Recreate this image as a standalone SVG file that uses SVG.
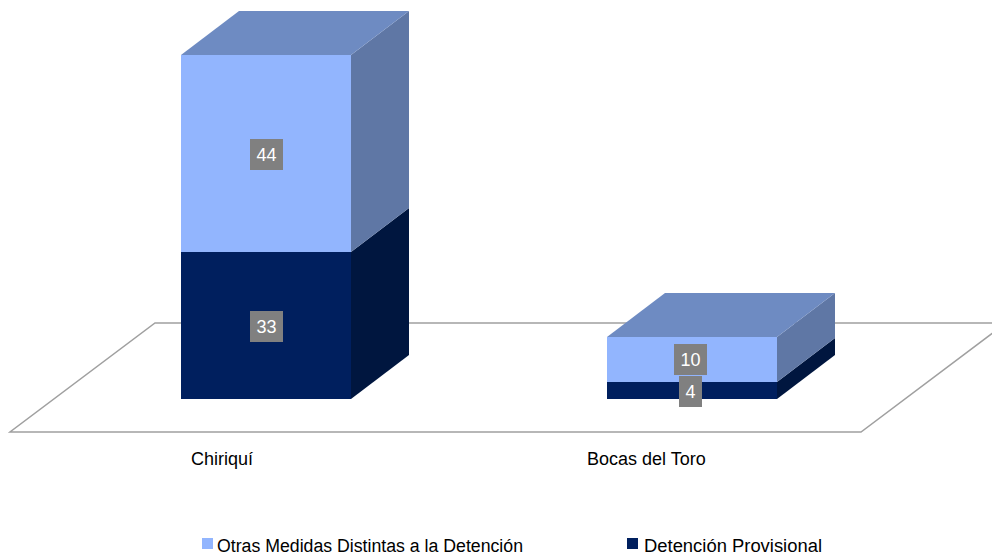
<svg xmlns="http://www.w3.org/2000/svg" width="992" height="555" viewBox="0 0 992 555">
<style>
.floor{fill:#fff;stroke:#a0a0a0;stroke-width:1.5}
.lf{fill:#92b5fe}.lt{fill:#6e8bc2}.ls{fill:#5f77a5}
.df{fill:#001f5e}.ds{fill:#00163f}
.lb{fill:#808080}
.lbt{font-family:"Liberation Sans",Arial,sans-serif;font-size:18px;fill:#fff;text-anchor:middle}
.ax{font-family:"Liberation Sans",Arial,sans-serif;font-size:18px;fill:#000}
</style>
<rect width="992" height="555" fill="#fff"/>
<g id="floor">
<polygon class="floor" points="10,432 861,432 1006,323 155,323"/>
</g>
<g id="bar-chiriqui">
<polygon class="df" points="181,252 351,252 351,399 181,399"/>
<polygon class="ds" points="351,252 409,208 409,355 351,399"/>
<polygon class="lf" points="181,55 351,55 351,252 181,252"/>
<polygon class="ls" points="351,55 409,11 409,208 351,252"/>
<polygon class="lt" points="181,55 239,11 409,11 351,55"/>
<rect class="lb" x="250" y="139" width="33" height="31"/>
<text class="lbt" x="266.5" y="161">44</text>
<rect class="lb" x="250" y="311" width="33" height="31"/>
<text class="lbt" x="266.5" y="333">33</text>
</g>
<g id="bar-bocas">
<polygon class="df" points="607,382 777,382 777,399 607,399"/>
<polygon class="ds" points="777,382 835,338 835,355 777,399"/>
<polygon class="lf" points="607,337 777,337 777,382 607,382"/>
<polygon class="ls" points="777,337 835,293 835,338 777,382"/>
<polygon class="lt" points="607,337 665,293 835,293 777,337"/>
<rect class="lb" x="674" y="344" width="33" height="31"/>
<text class="lbt" x="690.5" y="366">10</text>
<rect class="lb" x="679" y="376" width="23" height="31"/>
<text class="lbt" x="690.5" y="398">4</text>
</g>
<g id="axis-labels">
<text class="ax" x="191" y="465">Chiriquí</text>
<text class="ax" x="587" y="465">Bocas del Toro</text>
</g>
<g id="legend">
<rect class="lf" x="202" y="538" width="11" height="11"/>
<text class="ax" x="217" y="552" textLength="306" lengthAdjust="spacingAndGlyphs">Otras Medidas Distintas a la Detención</text>
<rect class="df" x="627" y="538" width="11" height="11"/>
<text class="ax" x="644" y="552" textLength="178" lengthAdjust="spacingAndGlyphs">Detención Provisional</text>
</g>
</svg>
